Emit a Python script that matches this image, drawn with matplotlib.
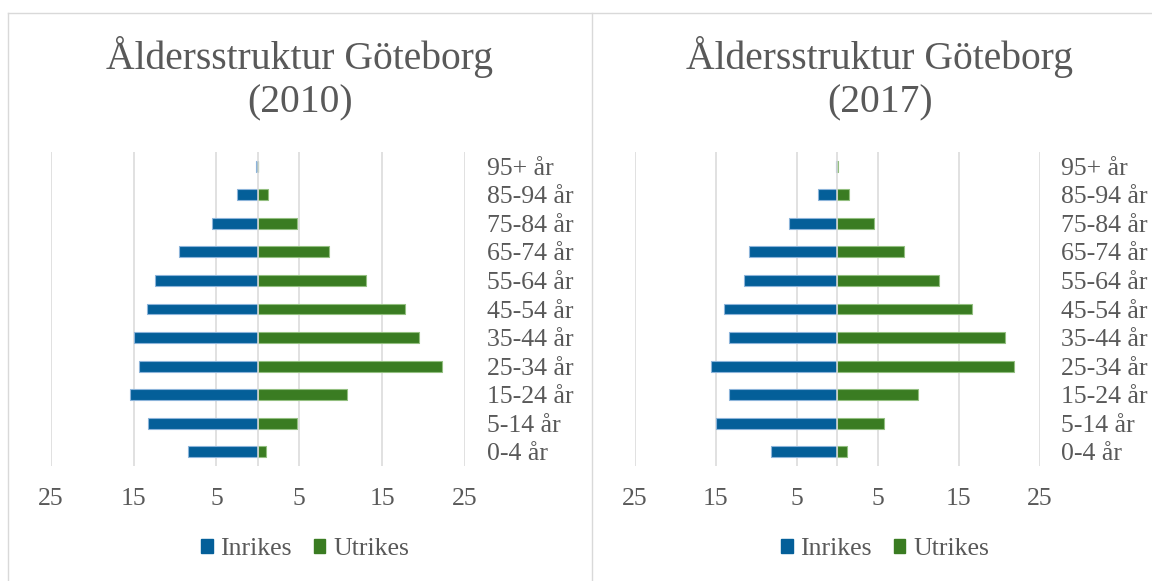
import matplotlib
matplotlib.use("Agg")
import matplotlib.pyplot as plt
from matplotlib.lines import Line2D
from matplotlib.patches import Patch

plt.rcParams['font.family'] = ['Liberation Serif', 'DejaVu Serif']

categories = ["0-4 år", "5-14 år", "15-24 år", "25-34 år", "35-44 år", "45-54 år",
              "55-64 år", "65-74 år", "75-84 år", "85-94 år", "95+ år"]

inrikes_2010 = [8.4, 13.2, 15.4, 14.3, 15.0, 13.4, 12.4, 9.5, 5.5, 2.5, 0.2]
utrikes_2010 = [0.95, 4.7, 10.7, 22.2, 19.5, 17.7, 13.0, 8.6, 4.7, 1.25, 0.05]

inrikes_2017 = [8.2, 15.0, 13.4, 15.6, 13.3, 14.0, 11.5, 10.9, 5.9, 2.4, 0.2]
utrikes_2017 = [1.26, 5.8, 10.0, 21.8, 20.7, 16.6, 12.6, 8.2, 4.6, 1.4, 0.05]

titles = ["Åldersstruktur Göteborg\n(2010)", "Åldersstruktur Göteborg\n(2017)"]
x_ticks = [-25, -15, -5, 5, 15, 25]
x_tick_labels = ["25", "15", "5", "5", "15", "25"]
series_names = ["Inrikes", "Utrikes"]

BLUE = "#045F99"
GREEN = "#3A7C22"
BLUE_EDGE = "#8CB4DA"
GREEN_EDGE = "#93BF80"
GRID = "#D9D9D9"
TEXT = "#595959"

W, H = 1152, 581
fig = plt.figure(figsize=(W / 100, H / 100), dpi=100)

def fx(px):
    return px / W

def fy(py):
    return 1 - py / H

# panel borders
top_y = 12.5
for xs, ys in [([8, W], [top_y, top_y]), ([8, 8], [top_y, H]), ([592, 592], [top_y, H])]:
    fig.add_artist(Line2D([fx(x) for x in xs], [fy(y) for y in ys], color=GRID, lw=1.0))

axes_specs = [
    (50.7, 465.0, 300),
    (634.7, 1039.7, 880),
]
plot_top, plot_bot = 152, 466

datasets = [(inrikes_2010, utrikes_2010), (inrikes_2017, utrikes_2017)]

for (xl, xr, pc), (inr, utr), title in zip(axes_specs, datasets, titles):
    ax = fig.add_axes([fx(xl), fy(plot_bot), fx(xr - xl), (plot_bot - plot_top) / H])
    ypos = list(range(len(categories)))
    ax.barh(ypos, [-v for v in inr], height=0.38, color=BLUE, edgecolor=BLUE_EDGE,
            linewidth=0.8, zorder=2)
    ax.barh(ypos, utr, height=0.38, color=GREEN, edgecolor=GREEN_EDGE,
            linewidth=0.8, zorder=2)
    ax.set_xlim(-25, 25)
    ax.set_ylim(-0.5, len(categories) - 0.5)
    ax.set_xticks(x_ticks)
    ax.set_xticklabels(x_tick_labels)
    for t in x_ticks:
        ax.axvline(t, color=GRID, lw=1.1, zorder=1)
    ax.axvline(0, color=GRID, lw=1.1, zorder=3)
    ax.set_yticks(ypos)
    ax.set_yticklabels(categories)
    ax.yaxis.tick_right()
    ax.tick_params(axis='y', length=0, pad=15.5, labelsize=18.5, labelcolor=TEXT)
    ax.tick_params(axis='x', length=0, pad=16, labelsize=18.5, labelcolor=TEXT)
    for lab in ax.get_yticklabels():
        lab.set_horizontalalignment('left')
    for s in ax.spines.values():
        s.set_visible(False)
    fig.text(fx(pc), fy(79), title, ha='center', va='center', fontsize=28.5,
             color=TEXT, linespacing=1.23)
    handles = [Patch(facecolor=BLUE, edgecolor=BLUE), Patch(facecolor=GREEN, edgecolor=GREEN)]
    fig.legend(handles, series_names, loc='center', bbox_to_anchor=(fx(pc + 5), fy(549)),
               ncol=2, frameon=False, fontsize=18.5, labelcolor=TEXT,
               handlelength=0.45, handleheight=0.45, handletextpad=0.3,
               columnspacing=0.85, borderpad=0)

fig.savefig("out.png", dpi=100, facecolor="white")
